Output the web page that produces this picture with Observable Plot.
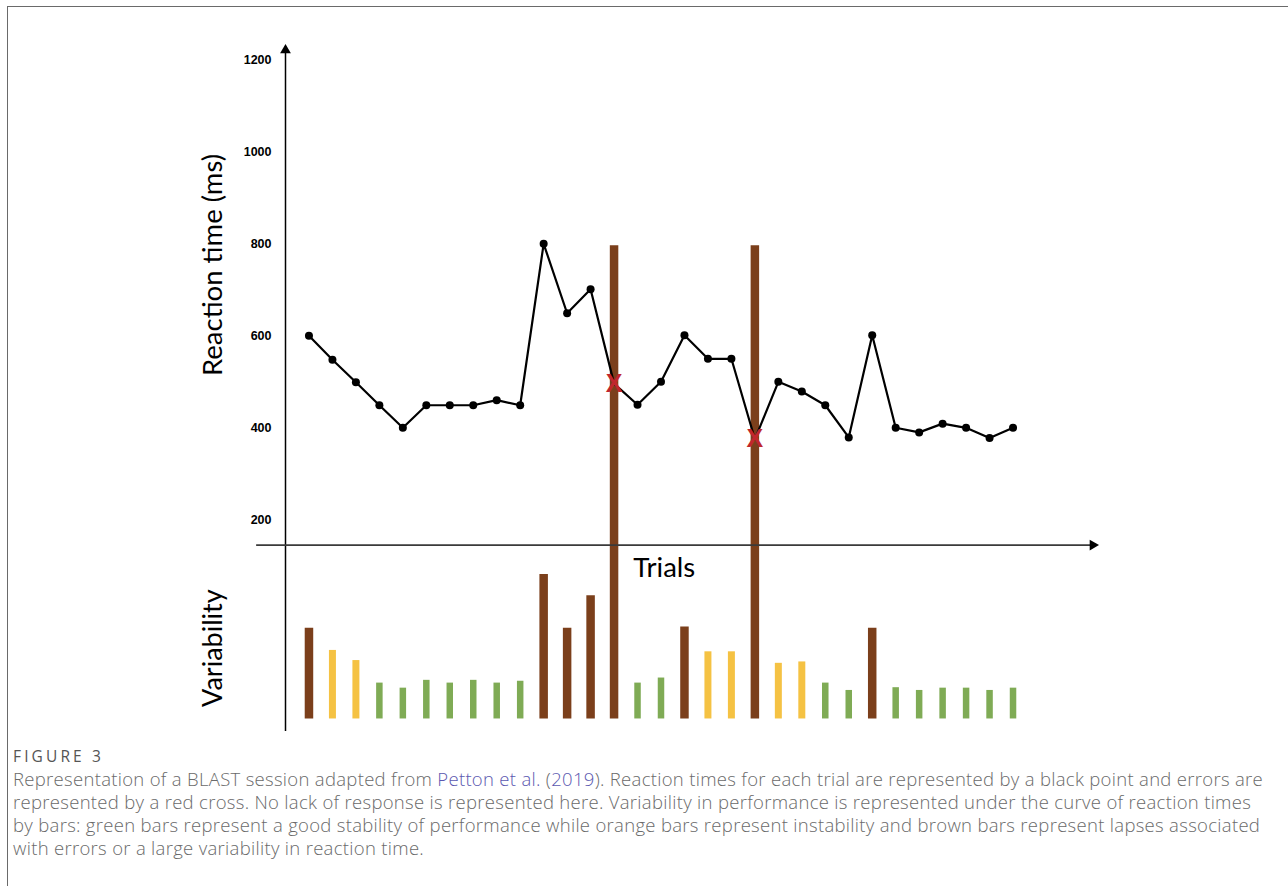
<!DOCTYPE html>
<html>
<head>
<meta charset="utf-8">
<script src="https://cdn.jsdelivr.net/npm/d3@7"></script>
<script src="https://cdn.jsdelivr.net/npm/@observablehq/plot@0.6"></script>
<style>
  html, body { margin: 0; padding: 0; background: #fff; }
  body { width: 1288px; height: 886px; position: relative; overflow: hidden; }
  #frame { position: absolute; left: 7px; top: 6px; width: 1400px; height: 1000px;
           border-top: 1.6px solid #6a6a6a; border-left: 1.6px solid #6a6a6a; }
  #chart { position: absolute; left: 0; top: 0; }
  #caption { position: absolute; left: 13px; top: 745px; font-family: "Open Sans", Lato, sans-serif;
             font-weight: 300; color: #6a6a6a; }
  #caption .fig { font-size: 15.5px; font-weight: 400; color: #555; line-height: 21px; white-space: nowrap; display: inline-block; }
  #caption .txt { font-size: 18.5px; line-height: 23px; white-space: nowrap; }
  #caption .ln { display: inline-block; white-space: nowrap; }
  #caption .lk { color: #5b58b0; }
</style>
</head>
<body>
<div id="frame"></div>
<div id="chart"></div>
<div id="caption">
  <div><span class="fig">FIGURE 3</span></div>
  <div class="txt"><span class="ln">Representation of a BLAST session adapted from <span class="lk">Petton et al.</span> (<span class="lk">2019</span>). Reaction times for each trial are represented by a black point and errors are</span><br><span class="ln">represented by a red cross. No lack of response is represented here. Variability in performance is represented under the curve of reaction times</span><br><span class="ln">by bars: green bars represent a good stability of performance while orange bars represent instability and brown bars represent lapses associated</span><br><span class="ln">with errors or a large variability in reaction time.</span></div>
</div>
<script>
// ---- data ----
const trials = d3.range(1, 32);
const reactionTimes = [600, 548, 499, 449, 400, 449, 449, 449, 460, 449,
                       800, 649, 701, 496, 450, 500, 601, 550, 550, 375,
                       500, 479, 449, 379, 601, 400, 390, 409, 400, 378, 400];
const errorTrials = [14, 20];
const variability = [197, 149, 127, 78, 67, 84, 78, 84, 78, 82,
                     314, 197, 268, 1029, 78, 89, 200, 146, 146, 1029,
                     121, 124, 78, 62, 197, 68, 62, 67, 67, 62, 67];
const variabilityLevel = ["lapse", "instability", "instability", "stable", "stable", "stable", "stable", "stable", "stable", "stable",
                          "lapse", "lapse", "lapse", "lapse", "stable", "stable", "lapse", "instability", "instability", "lapse",
                          "instability", "instability", "stable", "stable", "lapse", "stable", "stable", "stable", "stable", "stable", "stable"];
const yTickValues = [200, 400, 600, 800, 1000, 1200];
const levels = ["stable", "instability", "lapse"];

// ---- styling / layout ----
const levelColors = {stable: "#7fab55", instability: "#f5c243", lapse: "#7b3f1b"};
const levelWidths = {stable: 6.5, instability: 7, lapse: 8.5};
const VAR_BASE = -233;      // baseline of the variability bars, in the y scale
const X_AXIS_AT = 145;      // where the horizontal "Trials" axis crosses
const Y_AXIS_TOP = 1221, Y_AXIS_BOTTOM = -260;
const X_AXIS_LEFT = -1.23, X_AXIS_RIGHT = 34.4;

const rows = trials.map((t, i) => ({
  trial: t, rt: reactionTimes[i], error: errorTrials.includes(t),
  v: variability[i], level: variabilityLevel[i]
}));

const chart = Plot.plot({
  width: 1288, height: 740,
  marginLeft: 285, marginRight: 181.6, marginTop: 0, marginBottom: 0,
  x: {domain: [0, 35], axis: null},
  y: {domain: [-279.8, 1328.9], axis: null},
  style: {fontFamily: "Lato, sans-serif", background: "transparent", overflow: "visible"},
  marks: [
    ...levels.map(level => Plot.ruleX(rows.filter(d => d.level === level), {
      x: "trial", y1: () => VAR_BASE, y2: d => VAR_BASE + d.v,
      stroke: levelColors[level], strokeWidth: levelWidths[level]
    })),
    Plot.ruleX([0], {x: d => d, y1: () => Y_AXIS_BOTTOM, y2: () => Y_AXIS_TOP, stroke: "#000", strokeWidth: 1.5}),
    Plot.dot([0], {x: d => d, y: () => Y_AXIS_TOP, symbol: "triangle", r: 4, fill: "#000", stroke: "none"}),
    Plot.ruleY([X_AXIS_AT], {y: d => d, x1: () => X_AXIS_LEFT, x2: () => X_AXIS_RIGHT, stroke: "#3a3a3a", strokeWidth: 1.6}),
    Plot.dot([X_AXIS_AT], {x: () => X_AXIS_RIGHT, y: d => d, symbol: "triangle", rotate: 90, r: 4, fill: "#000", stroke: "none"}),
    Plot.axisY({ticks: yTickValues, tickSize: 0, tickPadding: 14, tickFormat: d => String(d), label: null,
                fontSize: 12.5, fontWeight: "bold", fontFamily: "Liberation Sans, Arial, sans-serif"}),
    Plot.line(rows, {x: "trial", y: "rt", stroke: "#000", strokeWidth: 2.2}),
    Plot.dot(rows.filter(d => !d.error), {x: "trial", y: "rt", r: 4, fill: "#000", stroke: "none"}),
    Plot.text(rows.filter(d => d.error), {x: "trial", y: "rt", text: () => "X", fill: "#c0272d",
              fontSize: 25, fontWeight: "bold", fontFamily: "Liberation Sans, Arial, sans-serif"}),
    Plot.text(["Reaction time (ms)"], {x: () => -3.08, y: () => 754, text: d => d, rotate: -90, fontSize: 27.5, fill: "#000"}),
    Plot.text(["Variability"], {x: () => -3.08, y: () => -79, text: d => d, rotate: -90, fontSize: 27, fill: "#000"}),
    Plot.text(["Trials"], {x: () => 16.14, y: () => 94, text: d => d, fontSize: 27.5, fill: "#000"})
  ]
});
document.getElementById("chart").appendChild(chart);

// fit caption lines to the widths of the reference layout
function spacingFor(el, target) {
  el.style.letterSpacing = "0px";
  const w = el.getBoundingClientRect().width;
  return (target - w) / el.textContent.length;
}
const lines = document.querySelectorAll("#caption .ln");
const ls = spacingFor(lines[0], 1250);
lines.forEach(el => el.style.letterSpacing = ls + "px");
const fig = document.querySelector("#caption .fig");
fig.style.letterSpacing = spacingFor(fig, 91) + "px";
</script>
</body>
</html>
